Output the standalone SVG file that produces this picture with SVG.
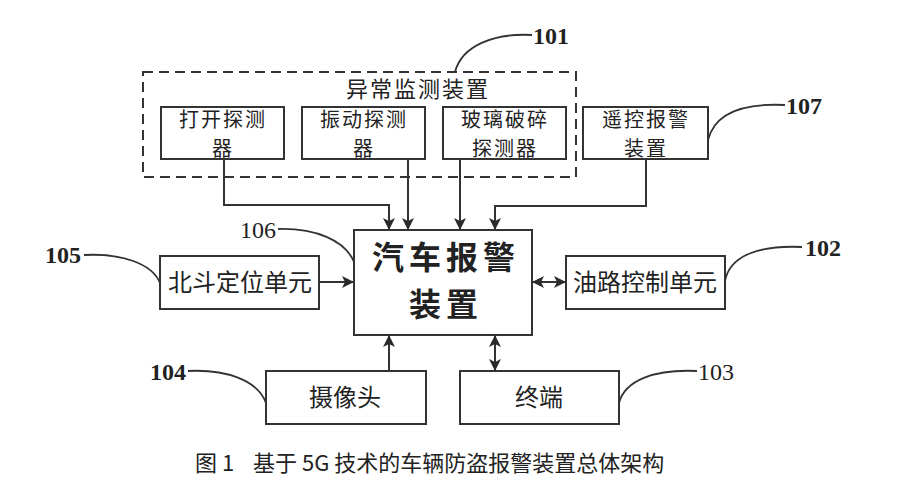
<svg xmlns="http://www.w3.org/2000/svg" width="900" height="492" viewBox="0 0 900 492">
<defs>
<marker id="ah" viewBox="0 0 12 12" refX="11" refY="6" markerWidth="12" markerHeight="12" markerUnits="userSpaceOnUse" orient="auto-start-reverse">
<path d="M0,0 L12,6 L0,12 L3,6 z" fill="#2a2a2a"/>
</marker>
</defs>
<style>
.box{fill:#fff;stroke:#333;stroke-width:2}
.dash{fill:none;stroke:#333;stroke-width:2;stroke-dasharray:10 6}
.ln{fill:none;stroke:#333;stroke-width:2}
.ld{fill:none;stroke:#333;stroke-width:1.8}
.t{font-family:"Noto Sans CJK SC","Noto Sans CJK JP",sans-serif;font-size:24px;fill:#222;text-anchor:middle}
.t2{font-family:"Noto Sans CJK SC","Noto Sans CJK JP",sans-serif;font-size:20px;fill:#222;text-anchor:middle;letter-spacing:2px}
.ttl{font-family:"Noto Sans CJK SC","Noto Sans CJK JP",sans-serif;font-size:22px;fill:#222;text-anchor:middle;letter-spacing:2px}
.big{font-family:"Noto Sans CJK SC","Noto Sans CJK JP",sans-serif;font-size:32px;fill:#222;text-anchor:middle;font-weight:bold;letter-spacing:5px}
.n{font-family:"Liberation Serif",serif;font-size:24px;fill:#222;font-weight:bold}
.nr{font-family:"Liberation Serif",serif;font-size:24px;fill:#222}
.cap{font-family:"Noto Sans CJK SC","Noto Sans CJK JP",sans-serif;font-size:22px;fill:#222}
</style>
<rect width="900" height="492" fill="#fff"/>

<g id="monitor">
<rect class="dash" x="143" y="72" width="433" height="105"/>
<text class="ttl" x="418" y="97">异常监测装置</text>
</g>
<g id="open-detector">
<rect class="box" x="161" y="107" width="123" height="52"/>
<text class="t2" x="223" y="127">打开探测</text>
<text class="t2" x="223" y="156">器</text>
</g>
<g id="vibration-detector">
<rect class="box" x="302" y="107" width="123" height="52"/>
<text class="t2" x="364" y="127">振动探测</text>
<text class="t2" x="364" y="156">器</text>
</g>
<g id="glass-detector">
<rect class="box" x="443" y="107" width="123" height="52"/>
<text class="t2" x="505" y="127">玻璃破碎</text>
<text class="t2" x="505" y="156">探测器</text>
</g>
<g id="remote">
<rect class="box" x="583" y="107" width="125" height="52"/>
<text class="t2" x="646" y="127">遥控报警</text>
<text class="t2" x="646" y="156">装置</text>
</g>
<g id="main">
<rect class="box" x="354" y="230" width="178" height="105"/>
<text class="big" x="446" y="269">汽车报警</text>
<text class="big" x="446" y="316">装置</text>
</g>
<g id="beidou">
<rect class="box" x="160" y="256" width="159" height="53"/>
<text class="t" x="240" y="291">北斗定位单元</text>
</g>
<g id="oil">
<rect class="box" x="566" y="256" width="159" height="53"/>
<text class="t" x="645" y="291">油路控制单元</text>
</g>
<g id="camera">
<rect class="box" x="266" y="371" width="160" height="53"/>
<text class="t" x="345" y="406">摄像头</text>
</g>
<g id="terminal">
<rect class="box" x="460" y="371" width="159" height="53"/>
<text class="t" x="539" y="406">终端</text>
</g>

<g id="connectors">
<path class="ln" d="M224,159 V205 H389 V229" marker-end="url(#ah)"/>
<path class="ln" d="M408,159 V229" marker-end="url(#ah)"/>
<path class="ln" d="M460,159 V229" marker-end="url(#ah)"/>
<path class="ln" d="M646,159 V206 H495 V229" marker-end="url(#ah)"/>
<path class="ln" d="M319,282 H353" marker-end="url(#ah)"/>
<path class="ln" d="M533,282 H565" marker-start="url(#ah)" marker-end="url(#ah)"/>
<path class="ln" d="M389,371 V336" marker-end="url(#ah)"/>
<path class="ln" d="M495,336 V370" marker-start="url(#ah)" marker-end="url(#ah)"/>
</g>

<g id="labels">
<path class="ld" d="M532,35 C495,33 462,45 455,72"/>
<text class="n" x="533" y="44">101</text>
<path class="ld" d="M785,105 C745,103 715,112 708,140"/>
<text class="n" x="786" y="114">107</text>
<path class="ld" d="M802,247 C760,245 730,255 725,281"/>
<text class="n" x="805" y="256">102</text>
<path class="ld" d="M697,371 C655,369 625,380 619,403"/>
<text class="nr" x="698" y="380">103</text>
<path class="ld" d="M188,371 C225,369 258,380 266,403"/>
<text class="n" x="150" y="380">104</text>
<path class="ld" d="M84,255 C120,253 152,263 160,283"/>
<text class="n" x="45" y="263">105</text>
<path class="ld" d="M278,229 C315,228 345,240 354,262"/>
<text class="nr" x="240" y="238">106</text>
</g>

<text class="cap" x="195" y="471">图 1</text>
<text class="cap" x="253" y="471">基于 5G 技术的车辆防盗报警装置总体架构</text>
</svg>
